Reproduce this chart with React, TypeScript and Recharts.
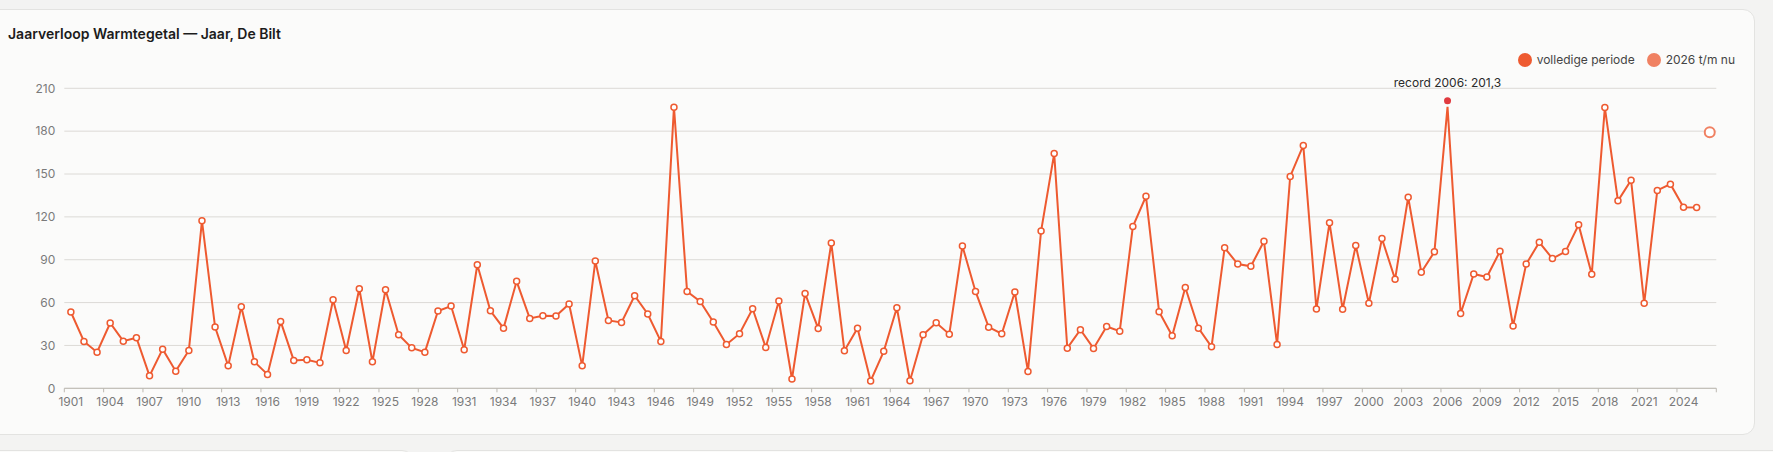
import { ComposedChart, Line, XAxis, YAxis, CartesianGrid, ReferenceDot } from 'recharts'

const FIRST_YEAR = 1901

// warmtegetal per jaar, 1901 t/m 2025
const fullValues = [
  53.4, 32.8, 25.3, 45.7, 33.0, 35.4, 8.7, 27.4, 12.0, 26.5,
  117.2, 42.9, 15.7, 57.1, 18.5, 9.7, 46.8, 19.5, 19.9, 17.8,
  62.0, 26.5, 69.7, 18.5, 69.0, 37.5, 28.3, 25.3, 54.1, 57.6,
  27.0, 86.5, 54.3, 42.1, 74.9, 48.9, 50.8, 50.6, 59.0, 15.7,
  89.1, 47.5, 46.1, 64.8, 52.0, 32.8, 196.8, 67.8, 60.8, 46.4,
  30.7, 38.2, 55.7, 28.6, 61.1, 6.5, 66.4, 41.9, 101.7, 26.3,
  42.1, 5.1, 25.9, 56.4, 5.3, 37.5, 45.9, 37.9, 99.6, 67.8,
  42.8, 38.2, 67.4, 11.8, 110.1, 164.3, 28.1, 41.0, 27.9, 43.3,
  40.0, 113.2, 134.4, 53.6, 36.8, 70.6, 42.1, 29.0, 98.3, 87.0,
  85.4, 102.9, 30.7, 148.3, 170.0, 55.5, 115.8, 55.3, 99.9, 59.5,
  104.8, 76.3, 133.8, 81.2, 95.5, 197.0, 52.4, 80.0, 77.9, 95.9,
  43.6, 87.0, 102.2, 90.8, 95.7, 114.4, 79.8, 196.5, 131.2, 145.7,
  59.5, 138.5, 142.9, 126.8, 126.6,
]

const partialYear = 2026
const partialValue = 179.2

const recordYear = 2006
const recordValue = 201.3

const yTicks = [0, 30, 60, 90, 120, 150, 180, 210]
// tick marks sit on the year boundaries, every third year gets a label
const yearEdges = Array.from({ length: 43 }, (_, i) => 1900.5 + i * 3)

const data = [
  ...fullValues.map((v, i) => ({ year: FIRST_YEAR + i, full: v, partial: null as number | null })),
  { year: partialYear, full: null as number | null, partial: partialValue },
]

const WIDTH = 1773
const HEIGHT = 452
const MARGIN = { top: 88.3, right: 56.7, bottom: 0, left: 8.3 }
const Y_WIDTH = 56
const X_DOMAIN: [number, number] = [1900.5, 2026.5]
const HALF_YEAR = (WIDTH - MARGIN.left - MARGIN.right - Y_WIDTH) / (X_DOMAIN[1] - X_DOMAIN[0]) / 2

const LINE = '#ee5a30'
const PARTIAL = '#f08162'
const RECORD = '#e03a3f'
const AXIS = '#bdb9b2'
const FONT = 'Inter, "Noto Sans", sans-serif'

function FullDot(props: any) {
  const { cx, cy, payload } = props
  if (cx == null || cy == null || payload.year === recordYear) return null
  return <circle cx={cx} cy={cy} r={3} fill="#fff" stroke={LINE} strokeWidth={1.5} />
}

function YearTick(props: any) {
  const { x, y, payload } = props
  const label = payload.value + 0.5
  return (
    <g>
      <line x1={x} x2={x} y1={y} y2={y + 4} stroke={AXIS} />
      {label <= 2025 && (
        <text x={x + HALF_YEAR} y={y + 9.5} dy="0.71em" textAnchor="middle" fontSize={12} fill="#7a7a7a" fontFamily={FONT}>
          {label}
        </text>
      )}
    </g>
  )
}

export default function App() {
  return (
    <div style={{ position: 'absolute', left: 0, top: 0, width: WIDTH, height: HEIGHT, background: '#f3f3f2', overflow: 'hidden', fontFamily: FONT }}>
      <div style={{ position: 'absolute', left: -12, top: 9, width: 1765, height: 424, background: '#fbfbfa', border: '1px solid #e3e3e1', borderRadius: 12 }} />
      <div style={{ position: 'absolute', left: -12, top: 450, width: 424, height: 40, background: '#fbfbfa', border: '1px solid #e3e3e1', borderRadius: 12 }} />
      <div style={{ position: 'absolute', left: 445, top: 450, width: 1400, height: 40, background: '#fbfbfa', border: '1px solid #e3e3e1', borderRadius: 12 }} />

      <div style={{ position: 'absolute', left: 8, top: 25, fontSize: 14, fontWeight: 600, color: '#1c1c1c' }}>
        Jaarverloop Warmtegetal — Jaar, De Bilt
      </div>

      <div style={{ position: 'absolute', right: 38, top: 52, display: 'flex', alignItems: 'center', fontSize: 12, color: '#444' }}>
        <span style={{ width: 14, height: 14, borderRadius: 7, background: LINE, display: 'inline-block', marginRight: 5 }} />
        <span style={{ marginRight: 12 }}>volledige periode</span>
        <span style={{ width: 14, height: 14, borderRadius: 7, background: PARTIAL, display: 'inline-block', marginRight: 5 }} />
        <span>2026 t/m nu</span>
      </div>

      <div style={{ position: 'absolute', left: 0, top: 0 }}>
        <ComposedChart width={WIDTH} height={HEIGHT} data={data} margin={MARGIN}>
          <CartesianGrid vertical={false} stroke="#dcdad6" />
          <XAxis
            dataKey="year"
            type="number"
            domain={X_DOMAIN}
            ticks={yearEdges}
            interval={0}
            tickLine={false}
            tickSize={0}
            tickMargin={0}
            axisLine={{ stroke: AXIS }}
            height={63.7}
            tick={<YearTick />}
          />
          <YAxis
            domain={[0, 210]}
            ticks={yTicks}
            width={Y_WIDTH}
            axisLine={false}
            tickLine={false}
            tickSize={0}
            tickMargin={9}
            tick={{ fontSize: 12, fill: '#7a7a7a', fontFamily: FONT }}
          />
          <Line
            dataKey="full"
            stroke={LINE}
            strokeWidth={2}
            dot={<FullDot />}
            activeDot={false}
            connectNulls={false}
            isAnimationActive={false}
          />
          <Line
            dataKey="partial"
            stroke={PARTIAL}
            strokeWidth={2}
            dot={{ r: 5, fill: '#fff', stroke: PARTIAL, strokeWidth: 2 }}
            activeDot={false}
            isAnimationActive={false}
          />
          <ReferenceDot
            x={recordYear}
            y={recordValue}
            r={3.5}
            fill={RECORD}
            stroke="none"
            ifOverflow="visible"
            label={{ value: 'record 2006: 201,3', position: 'top', offset: 10, fontSize: 12, fill: '#2a2a2a', fontFamily: FONT }}
          />
        </ComposedChart>
      </div>
    </div>
  )
}
